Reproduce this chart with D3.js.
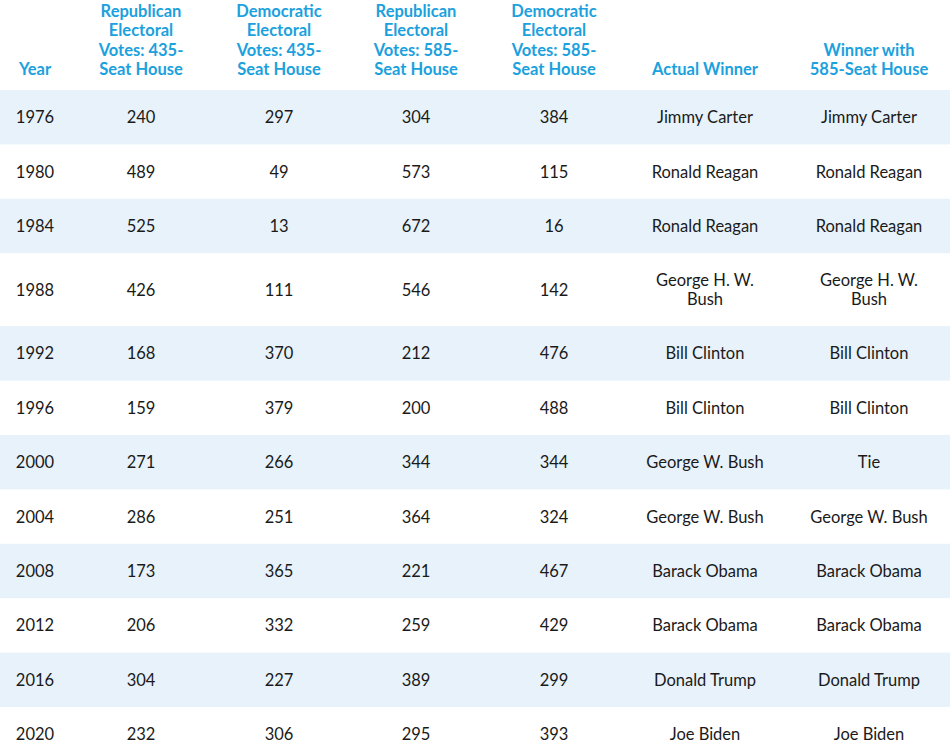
<!DOCTYPE html><html><head><meta charset="utf-8">
<script src="https://cdn.jsdelivr.net/npm/d3@7"></script>
<style>body{margin:0;background:#fff}</style></head><body><svg id="c" width="950" height="744"></svg>
<script>
const headers=[["Year"],["Republican","Electoral","Votes: 435-","Seat House"],["Democratic","Electoral","Votes: 435-","Seat House"],["Republican","Electoral","Votes: 585-","Seat House"],["Democratic","Electoral","Votes: 585-","Seat House"],["Actual Winner"],["Winner with","585-Seat House"]];
const years=[1976,1980,1984,1988,1992,1996,2000,2004,2008,2012,2016,2020];
const rep435=[240,489,525,426,168,159,271,286,173,206,304,232];
const dem435=[297,49,13,111,370,379,266,251,365,332,227,306];
const rep585=[304,573,672,546,212,200,344,364,221,259,389,295];
const dem585=[384,115,16,142,476,488,344,324,467,429,299,393];
const actual=["Jimmy Carter","Ronald Reagan","Ronald Reagan","George H. W.|Bush","Bill Clinton","Bill Clinton","George W. Bush","George W. Bush","Barack Obama","Barack Obama","Donald Trump","Joe Biden"];
const winner585=["Jimmy Carter","Ronald Reagan","Ronald Reagan","George H. W.|Bush","Bill Clinton","Bill Clinton","Tie","George W. Bush","Barack Obama","Barack Obama","Donald Trump","Joe Biden"];
const svg=d3.select("#c"),F="Lato, 'Noto Sans', sans-serif";
const cx=[35,141,279,416,554,705,869];
// header
headers.forEach((h,i)=>{const t=svg.append("text").attr("x",cx[i]).attr("text-anchor","middle").attr("fill","#1ba1dd").attr("font-family",F).attr("font-weight",700).attr("font-size",16.5);
 h.forEach((l,j)=>t.append("tspan").attr("x",cx[i]).attr("y",75-(h.length-1-j)*19.3).text(l));});
// row heights
const hts=years.map((y,i)=>actual[i].includes("|")?73:54.4);
let y=90;
years.forEach((yr,i)=>{
 const h=hts[i];
 if(i%2===0) svg.append("rect").attr("x",0).attr("y",y).attr("width",950).attr("height",h).attr("fill","#e7f2fb");
 const vals=[yr,rep435[i],dem435[i],rep585[i],dem585[i],actual[i],winner585[i]];
 vals.forEach((v,k)=>{const lines=String(v).split("|");
  const t=svg.append("text").attr("text-anchor","middle").attr("fill","#1a1a1a").attr("font-family",F).attr("font-size",16.5);
  lines.forEach((l,j)=>t.append("tspan").attr("x",cx[k]).attr("y",y+h/2+6+(j-(lines.length-1)/2)*19.5).text(l));});
 y+=h;
});
</script></body></html>
